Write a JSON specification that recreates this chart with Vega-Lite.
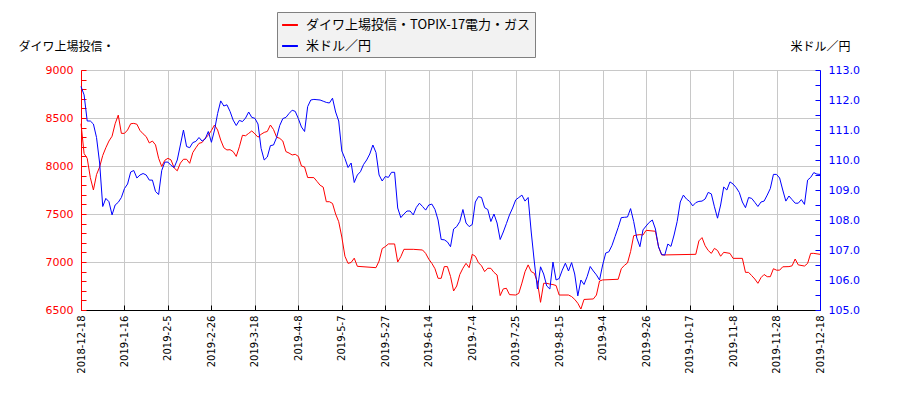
{
  "$schema": "https://vega.github.io/schema/vega-lite/v6.json",
  "description": "ダイワ上場投信・TOPIX-17電力・ガス vs 米ドル／円",
  "width": 739,
  "height": 240,
  "autosize": "none",
  "padding": {"left": 81, "top": 70, "right": 80, "bottom": 90},
  "background": "white",
  "datasets": {
    "etf": [
      {"t":0,"v":8440},{"t":1,"v":8130},{"t":2,"v":8080},{"t":3,"v":7880},{"t":4,"v":7750},{"t":5,"v":7910},{"t":6,"v":7990},{"t":7,"v":8110},{"t":8,"v":8190},{"t":9,"v":8260},
      {"t":10,"v":8310},{"t":11,"v":8440},{"t":12,"v":8530},{"t":13,"v":8340},{"t":14,"v":8340},{"t":15,"v":8375},{"t":16,"v":8440},{"t":17,"v":8444},{"t":18,"v":8435},{"t":19,"v":8370},
      {"t":20,"v":8335},{"t":21,"v":8306},{"t":22,"v":8240},{"t":23,"v":8260},{"t":24,"v":8220},{"t":25,"v":8080},{"t":26,"v":7995},{"t":27,"v":8060},{"t":28,"v":8080},{"t":29,"v":8063},
      {"t":30,"v":7980},{"t":31,"v":7950},{"t":32,"v":8030},{"t":33,"v":8070},{"t":34,"v":8070},{"t":35,"v":8028},{"t":36,"v":8140},{"t":37,"v":8190},{"t":38,"v":8236},{"t":39,"v":8245},
      {"t":40,"v":8290},{"t":41,"v":8320},{"t":42,"v":8370},{"t":43,"v":8427},{"t":44,"v":8375},{"t":45,"v":8270},{"t":46,"v":8190},{"t":47,"v":8167},{"t":48,"v":8170},{"t":49,"v":8150},
      {"t":50,"v":8100},{"t":51,"v":8200},{"t":52,"v":8320},{"t":53,"v":8315},{"t":54,"v":8340},{"t":55,"v":8365},{"t":56,"v":8335},{"t":57,"v":8300},{"t":58,"v":8330},{"t":59,"v":8350},
      {"t":60,"v":8360},{"t":61,"v":8427},{"t":62,"v":8380},{"t":63,"v":8300},{"t":64,"v":8288},{"t":65,"v":8260},{"t":66,"v":8150},{"t":67,"v":8135},{"t":68,"v":8115},{"t":69,"v":8122},
      {"t":70,"v":8100},{"t":71,"v":8000},{"t":72,"v":7990},{"t":73,"v":7880},{"t":75,"v":7879},{"t":76,"v":7840},{"t":77,"v":7800},{"t":78,"v":7780},{"t":79,"v":7628},
      {"t":80,"v":7628},{"t":81,"v":7610},{"t":82,"v":7500},{"t":83,"v":7420},{"t":84,"v":7260},{"t":85,"v":7060},{"t":86,"v":6986},{"t":87,"v":6995},{"t":88,"v":7040},{"t":89,"v":6955},
      {"t":95,"v":6941},{"t":96,"v":7010},{"t":97,"v":7140},{"t":98,"v":7160},{"t":99,"v":7188},{"t":101,"v":7188},{"t":102,"v":7000},{"t":103,"v":7056},{"t":104,"v":7132},
      {"t":107,"v":7132},{"t":110,"v":7125},{"t":111,"v":7090},{"t":112,"v":7030},{"t":113,"v":6986},{"t":114,"v":6930},{"t":115,"v":6830},{"t":116,"v":6830},{"t":117,"v":6952},{"t":118,"v":6952},{"t":119,"v":6850},
      {"t":120,"v":6698},{"t":121,"v":6750},{"t":122,"v":6870},{"t":123,"v":6935},{"t":124,"v":6986},{"t":125,"v":6941},{"t":126,"v":7080},{"t":127,"v":7060},{"t":128,"v":6993},{"t":129,"v":6960},
      {"t":130,"v":6900},{"t":131,"v":6935},{"t":132,"v":6934},{"t":133,"v":6892},{"t":134,"v":6865},{"t":135,"v":6650},{"t":136,"v":6720},{"t":137,"v":6726},{"t":138,"v":6660},
      {"t":140,"v":6656},{"t":141,"v":6674},{"t":142,"v":6780},{"t":143,"v":6899},{"t":144,"v":6970},{"t":145,"v":6900},{"t":146,"v":6882},{"t":147,"v":6790},{"t":148,"v":6580},{"t":149,"v":6778},
      {"t":150,"v":6778},{"t":151,"v":6770},{"t":152,"v":6765},{"t":153,"v":6755},{"t":154,"v":6656},{"t":157,"v":6656},{"t":158,"v":6640},{"t":159,"v":6611},
      {"t":160,"v":6570},{"t":161,"v":6510},{"t":162,"v":6610},{"t":165,"v":6615},{"t":166,"v":6656},{"t":167,"v":6802},{"t":168,"v":6813},
      {"t":173,"v":6820},{"t":174,"v":6930},{"t":175,"v":6965},{"t":176,"v":6990},{"t":177,"v":7108},{"t":178,"v":7274},{"t":179,"v":7281},
      {"t":180,"v":7285},{"t":181,"v":7281},{"t":182,"v":7330},{"t":185,"v":7320},{"t":186,"v":7160},{"t":187,"v":7073},
      {"t":198,"v":7080},{"t":199,"v":7220},{"t":200,"v":7254},{"t":201,"v":7170},{"t":202,"v":7120},{"t":203,"v":7090},{"t":204,"v":7142},{"t":205,"v":7120},{"t":206,"v":7060},{"t":207,"v":7101},{"t":209,"v":7090},
      {"t":210,"v":7038},{"t":213,"v":7038},{"t":214,"v":6892},{"t":215,"v":6892},{"t":216,"v":6858},{"t":217,"v":6823},{"t":218,"v":6778},{"t":219,"v":6837},
      {"t":220,"v":6870},{"t":221,"v":6847},{"t":222,"v":6847},{"t":223,"v":6930},{"t":224,"v":6915},{"t":225,"v":6915},{"t":226,"v":6950},{"t":228,"v":6952},{"t":229,"v":6960},
      {"t":230,"v":7031},{"t":231,"v":6970},{"t":233,"v":6958},{"t":234,"v":6985},{"t":235,"v":7090},{"t":236,"v":7090},{"t":238,"v":7080}
    ],
    "usdjpy": [
      {"t":0,"v":112.45},{"t":1,"v":112.17},{"t":2,"v":111.3},{"t":3,"v":111.3},{"t":4,"v":111.2},{"t":5,"v":110.75},{"t":6,"v":109.9},{"t":7,"v":108.45},{"t":8,"v":108.72},{"t":9,"v":108.61},
      {"t":10,"v":108.17},{"t":11,"v":108.5},{"t":12,"v":108.59},{"t":13,"v":108.75},{"t":14,"v":109.05},{"t":15,"v":109.2},{"t":16,"v":109.6},{"t":17,"v":109.65},{"t":18,"v":109.4},{"t":19,"v":109.5},
      {"t":20,"v":109.55},{"t":21,"v":109.5},{"t":22,"v":109.33},{"t":23,"v":109.33},{"t":24,"v":108.95},{"t":25,"v":108.85},{"t":26,"v":109.65},{"t":27,"v":109.93},{"t":28,"v":109.93},{"t":29,"v":109.82},
      {"t":30,"v":109.75},{"t":31,"v":110.0},{"t":32,"v":110.5},{"t":33,"v":111.0},{"t":34,"v":110.45},{"t":35,"v":110.41},{"t":36,"v":110.58},{"t":37,"v":110.62},{"t":38,"v":110.75},{"t":39,"v":110.63},
      {"t":40,"v":110.7},{"t":41,"v":110.95},{"t":42,"v":110.59},{"t":43,"v":111.0},{"t":44,"v":111.55},{"t":45,"v":111.97},{"t":46,"v":111.8},{"t":47,"v":111.84},{"t":48,"v":111.62},{"t":49,"v":111.33},
      {"t":50,"v":111.15},{"t":51,"v":111.32},{"t":52,"v":111.28},{"t":53,"v":111.4},{"t":54,"v":111.6},{"t":55,"v":111.42},{"t":56,"v":111.39},{"t":57,"v":111.2},{"t":58,"v":110.39},{"t":59,"v":110.0},
      {"t":60,"v":110.1},{"t":61,"v":110.48},{"t":62,"v":110.5},{"t":63,"v":110.75},{"t":64,"v":111.15},{"t":65,"v":111.38},{"t":66,"v":111.42},{"t":67,"v":111.55},{"t":68,"v":111.66},{"t":69,"v":111.62},
      {"t":70,"v":111.38},{"t":71,"v":111.1},{"t":72,"v":110.95},{"t":73,"v":111.78},{"t":74,"v":112.0},{"t":75,"v":112.02},{"t":76,"v":112.01},{"t":77,"v":112.0},{"t":78,"v":111.96},{"t":79,"v":111.92},
      {"t":80,"v":111.9},{"t":81,"v":112.06},{"t":82,"v":111.6},{"t":83,"v":111.3},{"t":84,"v":110.3},{"t":85,"v":110.05},{"t":86,"v":109.75},{"t":87,"v":109.9},{"t":88,"v":109.25},{"t":89,"v":109.5},
      {"t":90,"v":109.61},{"t":91,"v":109.85},{"t":92,"v":110.0},{"t":93,"v":110.2},{"t":94,"v":110.5},{"t":95,"v":110.25},{"t":96,"v":109.5},{"t":97,"v":109.3},{"t":98,"v":109.45},{"t":99,"v":109.42},
      {"t":100,"v":109.59},{"t":101,"v":109.59},{"t":102,"v":108.4},{"t":103,"v":108.08},{"t":104,"v":108.2},{"t":105,"v":108.3},{"t":106,"v":108.3},{"t":107,"v":108.17},{"t":108,"v":108.42},{"t":109,"v":108.56},
      {"t":110,"v":108.45},{"t":111,"v":108.33},{"t":112,"v":108.5},{"t":113,"v":108.53},{"t":114,"v":108.35},{"t":115,"v":108.0},{"t":116,"v":107.35},{"t":117,"v":107.34},{"t":118,"v":107.27},{"t":119,"v":107.11},
      {"t":120,"v":107.7},{"t":121,"v":107.78},{"t":122,"v":107.95},{"t":123,"v":108.35},{"t":124,"v":107.9},{"t":125,"v":107.78},{"t":126,"v":107.85},{"t":127,"v":108.6},{"t":128,"v":108.78},{"t":129,"v":108.75},
      {"t":130,"v":108.41},{"t":131,"v":108.35},{"t":132,"v":107.95},{"t":133,"v":108.2},{"t":134,"v":107.9},{"t":135,"v":107.35},{"t":136,"v":107.6},{"t":137,"v":107.88},{"t":138,"v":108.17},{"t":139,"v":108.4},
      {"t":140,"v":108.67},{"t":141,"v":108.75},{"t":142,"v":108.83},{"t":143,"v":108.63},{"t":144,"v":108.75},{"t":145,"v":107.6},{"t":146,"v":106.6},{"t":147,"v":105.7},{"t":148,"v":106.44},{"t":149,"v":106.2},
      {"t":150,"v":105.8},{"t":151,"v":105.7},{"t":152,"v":106.6},{"t":153,"v":106.0},{"t":154,"v":106.05},{"t":155,"v":106.33},{"t":156,"v":106.56},{"t":157,"v":106.3},{"t":158,"v":106.58},{"t":159,"v":106.2},
      {"t":160,"v":105.47},{"t":161,"v":106.0},{"t":162,"v":105.85},{"t":163,"v":106.11},{"t":164,"v":106.45},{"t":165,"v":106.3},{"t":166,"v":106.17},{"t":167,"v":106.0},{"t":168,"v":106.5},{"t":169,"v":106.9},
      {"t":170,"v":106.94},{"t":171,"v":107.15},{"t":172,"v":107.45},{"t":173,"v":107.75},{"t":174,"v":108.08},{"t":175,"v":108.09},{"t":176,"v":108.1},{"t":177,"v":108.38},{"t":178,"v":107.95},{"t":179,"v":107.4},
      {"t":180,"v":107.11},{"t":181,"v":107.67},{"t":182,"v":107.8},{"t":183,"v":107.92},{"t":184,"v":108.0},{"t":185,"v":107.7},{"t":186,"v":107.1},{"t":187,"v":106.85},{"t":188,"v":106.83},{"t":189,"v":107.2},
      {"t":190,"v":107.12},{"t":191,"v":107.5},{"t":192,"v":107.95},{"t":193,"v":108.6},{"t":194,"v":108.83},{"t":195,"v":108.7},{"t":196,"v":108.62},{"t":197,"v":108.47},{"t":198,"v":108.58},{"t":199,"v":108.62},
      {"t":200,"v":108.63},{"t":201,"v":108.7},{"t":202,"v":108.92},{"t":203,"v":108.87},{"t":204,"v":108.44},{"t":205,"v":108.06},{"t":206,"v":108.5},{"t":207,"v":109.1},{"t":208,"v":109.0},{"t":209,"v":109.27},
      {"t":210,"v":109.2},{"t":211,"v":109.08},{"t":212,"v":108.92},{"t":213,"v":108.6},{"t":214,"v":108.41},{"t":215,"v":108.75},{"t":216,"v":108.72},{"t":217,"v":108.59},{"t":218,"v":108.45},{"t":219,"v":108.6},
      {"t":220,"v":108.63},{"t":221,"v":108.83},{"t":222,"v":109.05},{"t":223,"v":109.52},{"t":224,"v":109.52},{"t":225,"v":109.4},{"t":226,"v":109.0},{"t":227,"v":108.63},{"t":228,"v":108.8},{"t":229,"v":108.68},
      {"t":230,"v":108.56},{"t":231,"v":108.56},{"t":232,"v":108.68},{"t":233,"v":108.52},{"t":234,"v":109.33},{"t":235,"v":109.42},{"t":236,"v":109.58},{"t":237,"v":109.53},{"t":238,"v":109.52}
    ]
  },
  "encoding": {
    "x": {
      "field": "t",
      "type": "quantitative",
      "scale": {"domain": [0, 238], "nice": false, "zero": false},
      "axis": {
        "title": null,
        "values": [0, 14, 28, 42, 56, 70, 84, 98, 112, 126, 140, 154, 168, 182, 196, 210, 224, 238],
        "labelExpr": "['2018-12-18','2019-1-16','2019-2-5','2019-2-26','2019-3-18','2019-4-8','2019-5-7','2019-5-27','2019-6-14','2019-7-4','2019-7-25','2019-8-15','2019-9-4','2019-9-26','2019-10-17','2019-11-8','2019-11-28','2019-12-18'][round(datum.value / 14)]",
        "labelAngle": -90,
        "labelAlign": "right",
        "labelBaseline": "middle",
        "labelFont": "DejaVu Sans",
        "labelFontSize": 10,
        "labelColor": "#000000",
        "labelPadding": 10,
        "labelOverlap": false,
        "labelFlush": false,
        "domainColor": "#000000",
        "tickColor": "#000000",
        "tickSize": -5,
        "grid": true,
        "gridColor": "#c8c8c8"
      }
    }
  },
  "layer": [
    {
      "data": {"name": "etf"},
      "mark": {"type": "line", "strokeWidth": 1, "interpolate": "linear"},
      "encoding": {
        "y": {
          "field": "v",
          "type": "quantitative",
          "scale": {"domain": [6500, 9000], "nice": false, "zero": false},
          "axis": {
            "orient": "left",
            "values": [6500, 6600, 6700, 6800, 6900, 7000, 7100, 7200, 7300, 7400, 7500, 7600, 7700, 7800, 7900, 8000, 8100, 8200, 8300, 8400, 8500, 8600, 8700, 8800, 8900, 9000],
            "format": "d",
            "labelExpr": "datum.value % 500 === 0 ? datum.label : ''",
            "labelColor": "#ff0000",
            "labelFont": "DejaVu Sans",
            "labelFontSize": 11,
            "labelPadding": 13,
            "domainColor": "#ff0000",
            "tickColor": "#ff0000",
            "tickSize": -5,
            "grid": true,
            "gridColor": "#c8c8c8",
            "gridOpacity": {"condition": {"test": "datum.value % 500 === 0", "value": 1}, "value": 0},
            "title": "ダイワ上場投信・",
            "titleAngle": 0,
            "titleX": -15,
            "titleY": -24,
            "titleAlign": "center",
            "titleBaseline": "middle",
            "titleFont": "Noto Sans CJK JP",
            "titleFontSize": 12,
            "titleFontWeight": "normal",
            "titleColor": "#000000"
          }
        },
        "color": {
          "datum": "ダイワ上場投信・TOPIX-17電力・ガス",
          "type": "nominal",
          "scale": {"domain": ["ダイワ上場投信・TOPIX-17電力・ガス", "米ドル／円"], "range": ["#ff0000", "#0000ff"]},
          "legend": {
            "title": null,
            "orient": "none",
            "legendX": 196,
            "legendY": -58,
            "symbolType": "stroke",
            "symbolStrokeWidth": 2,
            "symbolSize": 250,
            "labelFont": "Noto Sans CJK JP",
            "labelFontSize": 13,
            "labelColor": "#000000",
            "labelLimit": 400,
            "labelOffset": 7,
            "strokeColor": "#808080",
            "fillColor": "#f2f2f2",
            "padding": 4,
            "rowPadding": 5
          }
        }
      }
    },
    {
      "data": {"name": "usdjpy"},
      "mark": {"type": "line", "strokeWidth": 1, "interpolate": "linear"},
      "encoding": {
        "y": {
          "field": "v",
          "type": "quantitative",
          "scale": {"domain": [105, 113], "nice": false, "zero": false},
          "axis": {
            "orient": "right",
            "values": [105, 105.5, 106, 106.5, 107, 107.5, 108, 108.5, 109, 109.5, 110, 110.5, 111, 111.5, 112, 112.5, 113],
            "labelExpr": "datum.value % 1 === 0 ? format(datum.value, '.1f') : ''",
            "labelColor": "#0000ff",
            "labelFont": "DejaVu Sans",
            "labelFontSize": 11,
            "labelPadding": 13,
            "domainColor": "#0000ff",
            "tickColor": "#0000ff",
            "tickSize": -5,
            "grid": false,
            "title": "米ドル／円",
            "titleAngle": 0,
            "titleX": 0,
            "titleY": -24,
            "titleAlign": "center",
            "titleBaseline": "middle",
            "titleFont": "Noto Sans CJK JP",
            "titleFontSize": 12,
            "titleFontWeight": "normal",
            "titleColor": "#000000"
          }
        },
        "color": {"datum": "米ドル／円", "type": "nominal"}
      }
    }
  ],
  "resolve": {"scale": {"y": "independent"}},
  "config": {
    "view": {"stroke": null},
    "axis": {"domainWidth": 1, "tickWidth": 1, "gridWidth": 1}
  }
}
